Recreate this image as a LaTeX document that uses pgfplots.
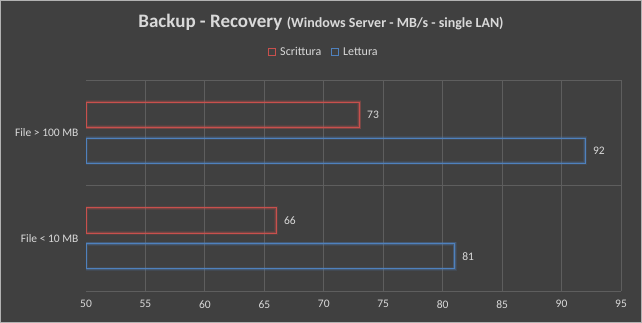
\documentclass[border=0pt]{standalone}
\usepackage{pgfplots}
\pgfplotsset{compat=1.18}
\usepackage{fontspec}
\setmainfont{Carlito}
\definecolor{bg}{HTML}{404040}
\definecolor{txt}{HTML}{D9D9D9}
\definecolor{gridc}{HTML}{5E5E5E}
\definecolor{sred}{HTML}{C8504D}
\definecolor{lblue}{HTML}{4F81BD}
\begin{document}
\begin{tikzpicture}[x=1pt,y=1pt]
\fill[bg] (0,0) rectangle (642,323);
\draw[gray!60, line width=1pt] (0.5,0.5) rectangle (641.5,322.5);
\node[anchor=base, text=txt] at (321,295) {{\fontsize{19}{22}\selectfont\bfseries Backup - Recovery}\ \ {\fontsize{14}{17}\selectfont\bfseries (Windows Server - MB/s - single LAN)}};
\begin{axis}[
  at={(86pt,32pt)}, anchor=south west,
  scale only axis, width=535pt, height=211pt,
  xbar, bar width=0.24,
  xmin=50, xmax=95, ymin=-0.5, ymax=1.5,
  xtick={50,55,...,95},
  ytick={0,1},
  yticklabels={File < 10 MB, File > 100 MB},
  major tick length=0pt,
  axis line style={draw=none},
  /pgf/number format/assume math mode=true,
  ticklabel style={font=\fontsize{11.5}{13}\selectfont, text=txt},
  xticklabel style={yshift=-6pt},
  yticklabel style={xshift=-4pt},
  extra x ticks={55,60,...,95}, extra x tick labels={},
  extra x tick style={grid=major, major grid style={gridc, line width=0.8pt}},
  extra y ticks={-0.5,0.5,1.5}, extra y tick labels={},
  extra y tick style={grid=major, major grid style={gridc, line width=0.8pt}},
  legend columns=2,
  legend style={at={(0.445,1.133)}, anchor=center, draw=none, fill=none,
    font=\fontsize{12}{14}\selectfont, text=txt,
    /tikz/every even column/.append style={column sep=8pt}},
  nodes near coords,
  every node near coord/.append style={anchor=west, xshift=4pt, text=txt, font=\fontsize{11.5}{13}\selectfont},
]
% glow layers
\addplot[forget plot, bar shift=0.17, draw=sred, draw opacity=0.15, line width=4pt, fill=none, nodes near coords=] coordinates {(73,1) (66,0)};
\addplot[forget plot, bar shift=0.17, draw=sred, draw opacity=0.3, line width=2.2pt, fill=none, nodes near coords=] coordinates {(73,1) (66,0)};
\addplot[forget plot, bar shift=-0.17, draw=lblue, draw opacity=0.15, line width=4pt, fill=none, nodes near coords=] coordinates {(92,1) (81,0)};
\addplot[forget plot, bar shift=-0.17, draw=lblue, draw opacity=0.3, line width=2.2pt, fill=none, nodes near coords=] coordinates {(92,1) (81,0)};
% main bars
\addplot[bar shift=0.17, draw=sred, line width=0.9pt, fill=none,
  legend image code/.code={\draw[sred, line width=0.7pt] (0pt,-3.5pt) rectangle (7pt,3.5pt); \path (9pt,0pt);}]
  coordinates {(73,1) (66,0)};
\addplot[bar shift=-0.17, draw=lblue, line width=0.9pt, fill=none,
  legend image code/.code={\draw[lblue, line width=0.7pt] (0pt,-3.5pt) rectangle (7pt,3.5pt); \path (9pt,0pt);}]
  coordinates {(92,1) (81,0)};
\legend{Scrittura, Lettura}
\end{axis}
\end{tikzpicture}
\end{document}
